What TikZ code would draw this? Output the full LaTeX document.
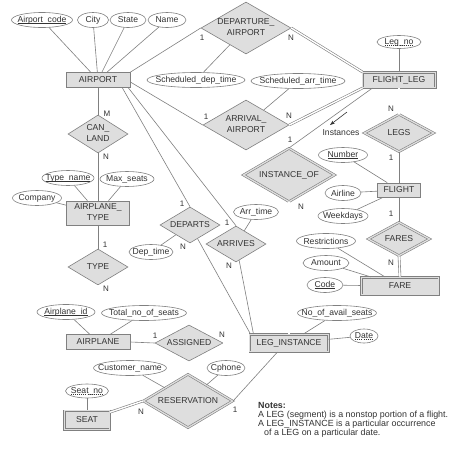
\documentclass[tikz,border=0pt]{standalone}
\usepackage{fontspec}
\setmainfont{Liberation Sans}
\usetikzlibrary{shapes.geometric,arrows.meta}
\definecolor{lc}{HTML}{808080}
\definecolor{fc}{HTML}{DEDEDE}
\definecolor{tc}{HTML}{333333}
\newcommand\zw[1]{\makebox[0pt]{#1}}
\newcommand\two[2]{\makebox[0pt]{\begin{tabular}{@{}c@{}}#1\\#2\end{tabular}}}
\newsavebox\dulbox
\newcommand\dul[1]{\sbox\dulbox{#1}\usebox\dulbox\llap{\raisebox{-1.7pt}{\hbox to\wd\dulbox{\xleaders\hbox to 2pt{\hss\rule{1pt}{0.5pt}\hss}\hfill}}}}
\newcommand\sul[1]{\sbox\dulbox{#1}\usebox\dulbox\llap{\raisebox{-1.7pt}{\rule{\wd\dulbox}{0.5pt}}}}
\begin{document}
\begin{tikzpicture}[x=1pt,y=-1pt,
  every node/.style={text=tc, font=\fontsize{8.6}{10.5}\selectfont},
  ent/.style={rectangle, draw=lc, fill=fc, line width=0.7pt, inner sep=0},
  weak/.style={ent, double=fc, double distance=1.3pt, line width=0.6pt},
  attr/.style={ellipse, draw=lc, fill=white, line width=0.6pt, inner sep=0, minimum height=15},
  rel/.style={diamond, draw=lc, fill=fc, line width=0.6pt, inner sep=0},
  idrel/.style={rel, double=fc, double distance=1.3pt},
  lnk/.style={draw=lc, line width=0.6pt},
  tot/.style={draw=lc, line width=0.6pt, double=white, double distance=1.4pt},
  card/.style={inner sep=0, font=\fontsize{8}{9}\selectfont}]
\fill[white] (0,0) rectangle (458,459);
\useasboundingbox (0,0) rectangle (458,459);

% ---------- entities
\node[ent, minimum width=64, minimum height=15] (airport) at (98,80) {AIRPORT};
\node[weak, minimum width=72.5, minimum height=15.5] (flightleg) at (399,80) {FLIGHT\_LEG};
\node[ent, minimum width=43, minimum height=14] (flight) at (399,190) {FLIGHT};
\node[weak, minimum width=77.5, minimum height=17.5] (fare) at (400,286) {FARE};
\node[weak, minimum width=78.5, minimum height=17.5] (leginst) at (289,343) {LEG\_INSTANCE};
\node[ent, minimum width=64, minimum height=15] (airplane) at (98,342) {AIRPLANE};
\node[ent, minimum width=63, minimum height=24] (atype) at (98,213) {\two{AIRPLANE\_}{TYPE}};
\node[weak, minimum width=45.5, minimum height=18.5] (seat) at (87,420) {SEAT};

% ---------- relationships
\node[rel, minimum width=90, minimum height=52] (depa) at (246,28) {\two{DEPARTURE\_}{AIRPORT}};
\node[rel, minimum width=86, minimum height=50] (arra) at (246,125) {\two{ARRIVAL\_}{AIRPORT}};
\node[idrel, minimum width=91.5, minimum height=53.5] (instof) at (289,175) {\zw{INSTANCE\_OF}};
\node[idrel, minimum width=69.5, minimum height=37.5] (legs) at (399,133) {\zw{LEGS}};
\node[idrel, minimum width=61.5, minimum height=33.5] (fares) at (399,239) {\zw{FARES}};
\node[rel, minimum width=68, minimum height=36] (assigned) at (189,343) {\zw{ASSIGNED}};
\node[rel, minimum width=60, minimum height=36] (type) at (98,267) {\zw{TYPE}};
\node[rel, minimum width=60, minimum height=38] (canland) at (98,134) {\two{CAN\_}{LAND}};
\node[rel, minimum width=60, minimum height=36] (departs) at (190,225) {\zw{DEPARTS}};
\node[rel, minimum width=60, minimum height=36] (arrives) at (236,244) {\zw{ARRIVES}};
\node[idrel, minimum width=89.5, minimum height=53.5] (reservation) at (188,401) {\zw{RESERVATION}};

% ---------- attributes
\node[attr, minimum width=61] (ac) at (42,20) {\zw{\sul{Airport\_code}}};
\node[attr, minimum width=31] (city) at (93,20) {\zw{City}};
\node[attr, minimum width=36] (state) at (128,20) {\zw{State}};
\node[attr, minimum width=38] (aname) at (167,20) {\zw{Name}};
\node[attr, minimum width=98] (sdt) at (196,80) {\zw{Scheduled\_dep\_time}};
\node[attr, minimum width=94] (sat) at (298,81) {\zw{Scheduled\_arr\_time}};
\node[attr, minimum width=44, minimum height=13] (legno) at (399,42) {\zw{\dul{Leg\_no}}};
\node[attr, minimum width=49] (number) at (343,155) {\zw{\sul{Number}}};
\node[attr, minimum width=36] (airline) at (343,193) {\zw{Airline}};
\node[attr, minimum width=50] (weekdays) at (343,216) {\zw{Weekdays}};
\node[attr, minimum width=59] (restr) at (326,241) {\zw{Restrictions}};
\node[attr, minimum width=46] (amount) at (326,263) {\zw{Amount}};
\node[attr, minimum width=36] (code) at (325,285) {\zw{\sul{Code}}};
\node[attr, minimum width=79] (noas) at (337,313) {\zw{No\_of\_avail\_seats}};
\node[attr, minimum width=28, minimum height=14] (date) at (364,336) {\zw{\dul{Date}}};
\node[attr, minimum width=58] (apid) at (66,312) {\zw{\sul{Airplane\_id}}};
\node[attr, minimum width=85] (tnos) at (144,313) {\zw{Total\_no\_of\_seats}};
\node[attr, minimum width=52] (tname) at (68,178) {\zw{\sul{Type\_name}}};
\node[attr, minimum width=54] (maxs) at (127,179) {\zw{Max\_seats}};
\node[attr, minimum width=49] (company) at (37,198) {\zw{Company}};
\node[attr, minimum width=44] (dept) at (151,252) {\zw{Dep\_time}};
\node[attr, minimum width=45] (arrt) at (256,212) {\zw{Arr\_time}};
\node[attr, minimum width=43, minimum height=14] (seatno) at (87,391) {\zw{\dul{Seat\_no}}};
\node[attr, minimum width=73] (cname) at (130,368) {\zw{Customer\_name}};
\node[attr, minimum width=38] (cphone) at (226,368) {\zw{Cphone}};

% ---------- attribute links
\draw[lnk] (ac) -- (airport);
\draw[lnk] (city) -- (airport);
\draw[lnk] (state) -- (airport);
\draw[lnk] (aname) -- (airport);
\draw[lnk] (sdt) -- (depa);
\draw[lnk] (sat) -- (arra);
\draw[lnk] (legno) -- (flightleg);
\draw[lnk] (number) -- (flight);
\draw[lnk] (airline) -- (flight);
\draw[lnk] (weekdays) -- (flight);
\draw[lnk] (restr) -- (fare);
\draw[lnk] (amount) -- (fare);
\draw[lnk] (code) -- (fare);
\draw[lnk] (noas) -- (leginst);
\draw[lnk] (date) -- (leginst);
\draw[lnk] (apid) -- (airplane);
\draw[lnk] (tnos) -- (airplane);
\draw[lnk] (tname) -- (atype);
\draw[lnk] (maxs) -- (atype);
\draw[lnk] (company) -- (atype);
\draw[lnk] (dept) -- (departs);
\draw[lnk] (arrt) -- (arrives);
\draw[lnk] (seatno) -- (seat);
\draw[lnk] (cname) -- (reservation);
\draw[lnk] (cphone) -- (reservation);

% ---------- relationship links
\draw[lnk] (airport.north east) -- (depa.west);
\draw[tot] (depa.east) -- (flightleg.north west);
\draw[lnk] ([yshift=-2pt]airport.east) -- (arra.west);
\draw[tot] (arra.east) -- (flightleg.south west);
\draw[lnk] ([xshift=10pt]flightleg.south west) -- (instof.north);
\draw[tot] (instof.south) -- (leginst.north);
\draw[tot] (flightleg.south) -- (legs.north);
\draw[lnk] (legs.south) -- (flight.north);
\draw[lnk] (flight.south) -- (fares.north);
\draw[tot] (fares.south) -- (fare.north);
\draw[lnk] (airport.south) -- (canland.north);
\draw[lnk] (canland.south) -- (atype.north);
\draw[lnk] (atype.south) -- (type.north);
\draw[tot] (type.south) -- (airplane.north);
\draw[lnk] (airplane.east) -- (assigned.west);
\draw[tot] (assigned.east) -- (leginst.west);
\draw[lnk] ([xshift=-8pt]airport.south east) -- (departs.north);
\draw[lnk] ([xshift=-2pt]airport.south east) -- (arrives.north);
\draw[lnk] (departs) -- ([xshift=1pt]leginst.north west);
\draw[lnk] (arrives) -- ([xshift=4pt]leginst.north west);
\draw[tot] (seat) -- (reservation.west);
\draw[lnk] (reservation.east) -- ([xshift=28pt]leginst.south west);

% ---------- Instances pointer
\coordinate (ia) at (347,112);
\coordinate (ib) at (330,125);
\draw[draw=tc, line width=0.6pt, -{Stealth[length=5pt,width=3.5pt]}] (ia) -- (ib);
\node[inner sep=0] (inst) at (341,133) {Instances};

% ---------- cardinalities
\node[card] (k1) at (202,38) {1};
\node[card] (k2) at (291,38) {N};
\node[card] (k3) at (206,117) {1};
\node[card] (k4) at (289,116) {N};
\node[card] (k5) at (290,140) {1};
\node[card] (k6) at (301,207) {N};
\node[card] (k7) at (391,109) {N};
\node[card] (k8) at (391,158) {1};
\node[card] (k9) at (391,214) {1};
\node[card] (k10) at (391,263) {N};
\node[card] (k11) at (107,114) {M};
\node[card] (k12) at (106,157) {N};
\node[card] (k13) at (105,245) {1};
\node[card] (k14) at (106,289) {N};
\node[card] (k15) at (155,336) {1};
\node[card] (k16) at (222,335) {N};
\node[card] (k17) at (182,204) {1};
\node[card] (k18) at (183,247) {N};
\node[card] (k19) at (227,223) {1};
\node[card] (k20) at (229,266) {N};
\node[card] (k21) at (141,412) {N};
\node[card] (k22) at (235,410) {1};

% ---------- notes
\node[anchor=north west, inner sep=0, align=left, font=\fontsize{8.9}{9.2}\selectfont] (notes) at (258,402)
 {\textbf{Notes:}\\A LEG (segment) is a nonstop portion of a flight.\\A LEG\_INSTANCE is a particular occurrence\\\hspace*{6pt}of a LEG on a particular date.};
\end{tikzpicture}
\end{document}
